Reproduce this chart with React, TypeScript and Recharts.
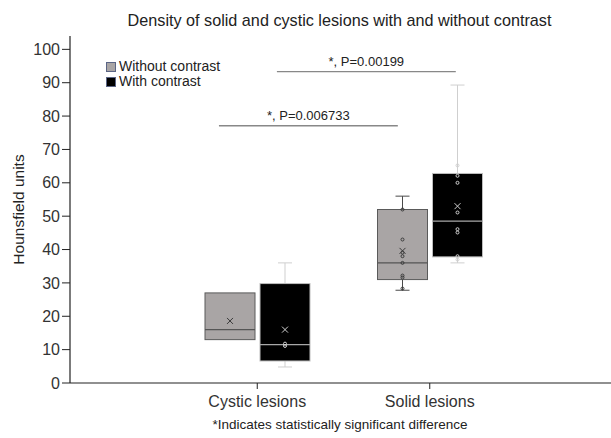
import React from 'react';
import { ComposedChart, Bar, XAxis, YAxis, ReferenceLine } from 'recharts';

const FONT = '"Liberation Sans", Arial, Helvetica, sans-serif';

const categories = ['Cystic lesions', 'Solid lesions'];

// Without contrast (grey boxes)
const withoutMin = [13, 27.8];
const withoutQ1 = [13, 31];
const withoutMedian = [16, 36];
const withoutQ3 = [27, 52];
const withoutMax = [27, 56];
const withoutMean = [18.6, 39.6];
const withoutPoints = [[], [52, 43, 39.1, 38, 36, 32.2, 31.6, 28.3]];

// With contrast (black boxes)
const withMin = [4.8, 36];
const withQ1 = [6.6, 37.8];
const withMedian = [11.5, 48.5];
const withQ3 = [29.8, 62.8];
const withMax = [36, 89.3];
const withMean = [16, 53];
const withPoints = [[11.8, 11.1], [65.2, 62.1, 60, 51.1, 46.1, 45.1, 38, 37]];

const yTicks = [0, 10, 20, 30, 40, 50, 60, 70, 80, 90, 100];

// Significance annotations (position on a numeric helper axis where categories are 1 and 2)
const sigLabels = ['*, P=0.006733', '*, P=0.00199'];
const sigFrom = [0.78, 1.116];
const sigTo = [1.817, 2.153];
const sigLevel = [77.1, 93.3];

const data = categories.map((name, i) => ({
  name,
  idx: i,
  pos: i + 1,
  aBase: withoutQ1[i],
  aBox: withoutQ3[i] - withoutQ1[i],
  bBase: withQ1[i],
  bBox: withQ3[i] - withQ1[i],
}));

type BoxStyle = {
  fill: string;
  stroke: string;
  median: string;
  whisker: string;
  mark: string;
};

function makeBoxShape(
  mins: number[], q1s: number[], meds: number[], q3s: number[], maxs: number[],
  means: number[], pts: number[][], st: BoxStyle
) {
  return (props: any) => {
    const { x, y, width, height, payload } = props;
    const i = payload.idx;
    const q1 = q1s[i];
    const q3 = q3s[i];
    const k = height / (q3 - q1);
    const py = (v: number) => y + height - (v - q1) * k;
    const cx = x + width / 2;
    const cap = 7;
    const yMed = py(meds[i]);
    const yMean = py(means[i]);
    const yMax = py(maxs[i]);
    const yMin = py(mins[i]);
    return (
      <g>
        {maxs[i] > q3 && (
          <g stroke={st.whisker} strokeWidth={1}>
            <line x1={cx} x2={cx} y1={y} y2={yMax} />
            <line x1={cx - cap} x2={cx + cap} y1={yMax} y2={yMax} />
          </g>
        )}
        {mins[i] < q1 && (
          <g stroke={st.whisker} strokeWidth={1}>
            <line x1={cx} x2={cx} y1={y + height} y2={yMin} />
            <line x1={cx - cap} x2={cx + cap} y1={yMin} y2={yMin} />
          </g>
        )}
        <rect x={x} y={y} width={width} height={height} fill={st.fill} stroke={st.stroke} strokeWidth={1} />
        <line x1={x} x2={x + width} y1={yMed} y2={yMed} stroke={st.median} strokeWidth={1.2} />
        {pts[i].map((v, j) => (
          <circle key={j} cx={cx} cy={py(v)} r={1.5} fill="none" stroke={st.mark} strokeWidth={1} />
        ))}
        <g stroke={st.mark} strokeWidth={1}>
          <line x1={cx - 3} x2={cx + 3} y1={yMean - 3} y2={yMean + 3} />
          <line x1={cx - 3} x2={cx + 3} y1={yMean + 3} y2={yMean - 3} />
        </g>
      </g>
    );
  };
}

const greyShape = makeBoxShape(withoutMin, withoutQ1, withoutMedian, withoutQ3, withoutMax, withoutMean, withoutPoints, {
  fill: '#a9a5a5', stroke: '#5a5a5a', median: '#555555', whisker: '#4a4a4a', mark: '#3a3a3a',
});
const blackShape = makeBoxShape(withMin, withQ1, withMedian, withQ3, withMax, withMean, withPoints, {
  fill: '#000000', stroke: '#bdbdbd', median: '#a8a8a8', whisker: '#cfcfcf', mark: '#d0d0d0',
});

const legendItems = [
  { label: 'Without contrast', color: '#a9a5a5' },
  { label: 'With contrast', color: '#000000' },
];

export default function App() {
  return (
    <div style={{ position: 'absolute', left: 0, top: 0, width: 611, height: 438, background: '#fff' }}>
      <ComposedChart
        width={611}
        height={438}
        data={data}
        margin={{ top: 36, right: 0, bottom: 25, left: 20 }}
        barSize={50}
        barGap={5}
      >
        <XAxis
          dataKey="name"
          type="category"
          padding={{ left: 101, right: 95 }}
          height={30}
          tickSize={6}
          tickMargin={7}
          axisLine={{ stroke: '#222', strokeWidth: 1.2 }}
          tickLine={{ stroke: '#222' }}
          tick={{ fontSize: 16, fill: '#333', fontFamily: FONT }}
        />
        <XAxis xAxisId="n" dataKey="pos" type="number" domain={[-0.0834, 3.0527]} hide allowDataOverflow />
        <YAxis
          type="number"
          domain={[0, 104]}
          ticks={yTicks}
          allowDataOverflow
          width={50}
          tickSize={8}
          tickMargin={2}
          axisLine={{ stroke: '#222', strokeWidth: 1.2 }}
          tickLine={{ stroke: '#222' }}
          tick={{ fontSize: 16, fill: '#333', fontFamily: FONT }}
          label={{
            value: 'Hounsfield units',
            angle: -90,
            position: 'insideLeft',
            offset: -2,
            style: { textAnchor: 'middle', fontSize: 15.5, fill: '#222', fontFamily: FONT },
          }}
        />
        <Bar dataKey="aBase" stackId="a" fill="transparent" isAnimationActive={false} />
        <Bar dataKey="aBox" stackId="a" shape={greyShape} isAnimationActive={false} />
        <Bar dataKey="bBase" stackId="b" fill="transparent" isAnimationActive={false} />
        <Bar dataKey="bBox" stackId="b" shape={blackShape} isAnimationActive={false} />
        {sigLabels.map((lab, i) => (
          <ReferenceLine
            key={lab}
            xAxisId="n"
            segment={[{ x: sigFrom[i], y: sigLevel[i] }, { x: sigTo[i], y: sigLevel[i] }]}
            stroke="#888"
            strokeWidth={1.3}
            ifOverflow="visible"
            label={{ value: lab, position: 'top', offset: 6, fontSize: 13, fill: '#222', fontFamily: FONT }}
          />
        ))}
      </ComposedChart>
      <div style={{ position: 'absolute', left: 106, top: 59, fontFamily: FONT, fontSize: 14, color: '#222', lineHeight: '15px' }}>
        {legendItems.map((it) => (
          <div key={it.label} style={{ display: 'flex', alignItems: 'center' }}>
            <span style={{ display: 'inline-block', width: 8, height: 8, background: it.color, border: '1px solid #5b6585', marginRight: 3 }} />
            <span>{it.label}</span>
          </div>
        ))}
      </div>
      <div style={{ position: 'absolute', left: 0, width: 611, top: 11, paddingLeft: 68, boxSizing: 'border-box', textAlign: 'center', fontFamily: FONT, fontSize: 16.2, color: '#222' }}>
        Density of solid and cystic lesions with and without contrast
      </div>
      <div style={{ position: 'absolute', left: 0, width: 611, top: 417, paddingLeft: 69, boxSizing: 'border-box', textAlign: 'center', fontFamily: FONT, fontSize: 13.5, color: '#222' }}>
        *Indicates statistically significant difference
      </div>
    </div>
  );
}
